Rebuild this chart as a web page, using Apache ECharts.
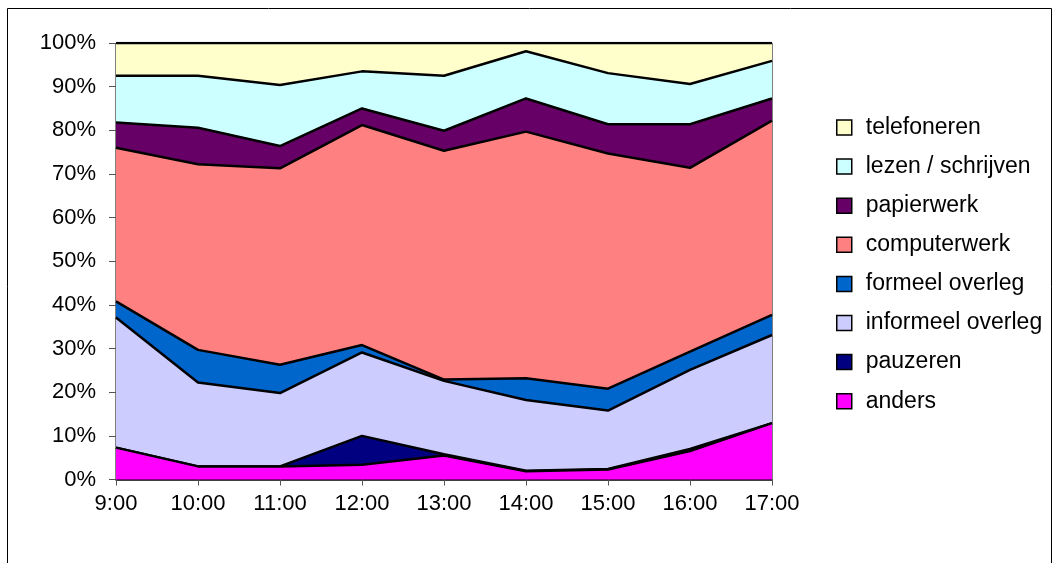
<!DOCTYPE html>
<html>
<head>
<meta charset="utf-8">
<script src="https://cdn.jsdelivr.net/npm/echarts@6/dist/echarts.min.js"></script>
<style>
  html, body { margin: 0; padding: 0; background: #fff; }
  #chart { width: 1060px; height: 563px; }
</style>
</head>
<body>
<div id="chart"></div>
<script>
// Hours of the working day
const hours = ['9:00', '10:00', '11:00', '12:00', '13:00', '14:00', '15:00', '16:00', '17:00'];

// Share of time per activity (percent of each hour), stacked bottom to top
const anders           = [7.3, 3.0, 3.0, 3.4, 5.5, 1.9, 2.3, 6.5, 12.9];
const pauzeren         = [0.0, 0.0, 0.0, 6.6, 0.3, 0.1, 0.1, 0.5, 0.0];
const informeelOverleg = [29.8, 19.2, 16.8, 19.1, 16.8, 16.2, 13.4, 18.1, 20.2];
const formeelOverleg   = [3.7, 7.5, 6.5, 1.7, 0.3, 5.0, 5.0, 4.2, 4.6];
const computerwerk     = [35.2, 42.5, 45.0, 50.4, 52.4, 56.5, 53.9, 42.1, 44.5];
const papierwerk       = [5.8, 8.4, 5.1, 3.8, 4.6, 7.6, 6.7, 10.0, 5.1];
const lezenSchrijven   = [10.7, 11.9, 14.0, 8.5, 12.6, 10.8, 11.7, 9.2, 8.6];
const telefoneren      = [7.5, 7.5, 9.6, 6.5, 7.5, 1.9, 6.9, 9.4, 4.1];

// Value axis tick labels
const yTicks = [0, 10, 20, 30, 40, 50, 60, 70, 80, 90, 100];

const layers = [
  { name: 'anders',            data: anders,           color: '#FF00FF' },
  { name: 'pauzeren',          data: pauzeren,         color: '#000080' },
  { name: 'informeel overleg', data: informeelOverleg, color: '#CCCCFF' },
  { name: 'formeel overleg',   data: formeelOverleg,   color: '#0066CC' },
  { name: 'computerwerk',      data: computerwerk,     color: '#FF8080' },
  { name: 'papierwerk',        data: papierwerk,       color: '#660066' },
  { name: 'lezen / schrijven', data: lezenSchrijven,   color: '#CCFFFF' },
  { name: 'telefoneren',       data: telefoneren,      color: '#FFFFCC' }
];

const font = 'Liberation Sans, Arial, sans-serif';

const chart = echarts.init(document.getElementById('chart'), null, { renderer: 'canvas' });

chart.setOption({
  backgroundColor: '#fff',
  animation: false,
  graphic: [{
    type: 'rect',
    silent: true,
    z: 100,
    shape: { x: 7.5, y: 8.5, width: 1044, height: 600 },
    style: { fill: 'none', stroke: '#000', lineWidth: 1 }
  }],
  grid: {
    left: 116, right: 288, top: 43, bottom: 83.5,
    show: true, borderColor: '#000', borderWidth: 1, backgroundColor: '#fff'
  },
  legend: {
    orient: 'vertical',
    left: 831, top: 111,
    itemWidth: 15, itemHeight: 15,
    itemGap: 16.1,
    icon: 'rect',
    selectedMode: false,
    data: layers.map(l => l.name).reverse(),
    itemStyle: { borderColor: '#000', borderWidth: 1.5 },
    textStyle: { fontFamily: font, fontSize: 23, color: '#000', padding: [0, 0, 0, 9] }
  },
  xAxis: {
    type: 'category',
    data: hours,
    boundaryGap: false,
    axisLine: { lineStyle: { color: '#000', width: 1.5 } },
    axisTick: { show: true, length: 6, lineStyle: { color: '#555' } },
    axisLabel: { fontFamily: font, fontSize: 22, color: '#000', margin: 13 },
    splitLine: { show: false }
  },
  yAxis: {
    type: 'value',
    min: yTicks[0], max: yTicks[yTicks.length - 1], interval: 10,
    axisLine: { show: true, lineStyle: { color: '#000', width: 1 } },
    axisTick: { show: true, length: 7, lineStyle: { color: '#555' } },
    axisLabel: { fontFamily: font, fontSize: 22, color: '#000', margin: 20, formatter: '{value}%' },
    splitLine: { show: false }
  },
  series: layers.map((l, i) => ({
    name: l.name,
    type: 'line',
    stack: 'total',
    data: l.data,
    color: l.color,
    symbol: 'none',
    z: 20 - i,
    lineStyle: { color: '#000', width: 2.5 },
    areaStyle: { color: l.color, opacity: 1 },
    itemStyle: { color: l.color },
    emphasis: { disabled: true }
  }))
});
</script>
</body>
</html>
